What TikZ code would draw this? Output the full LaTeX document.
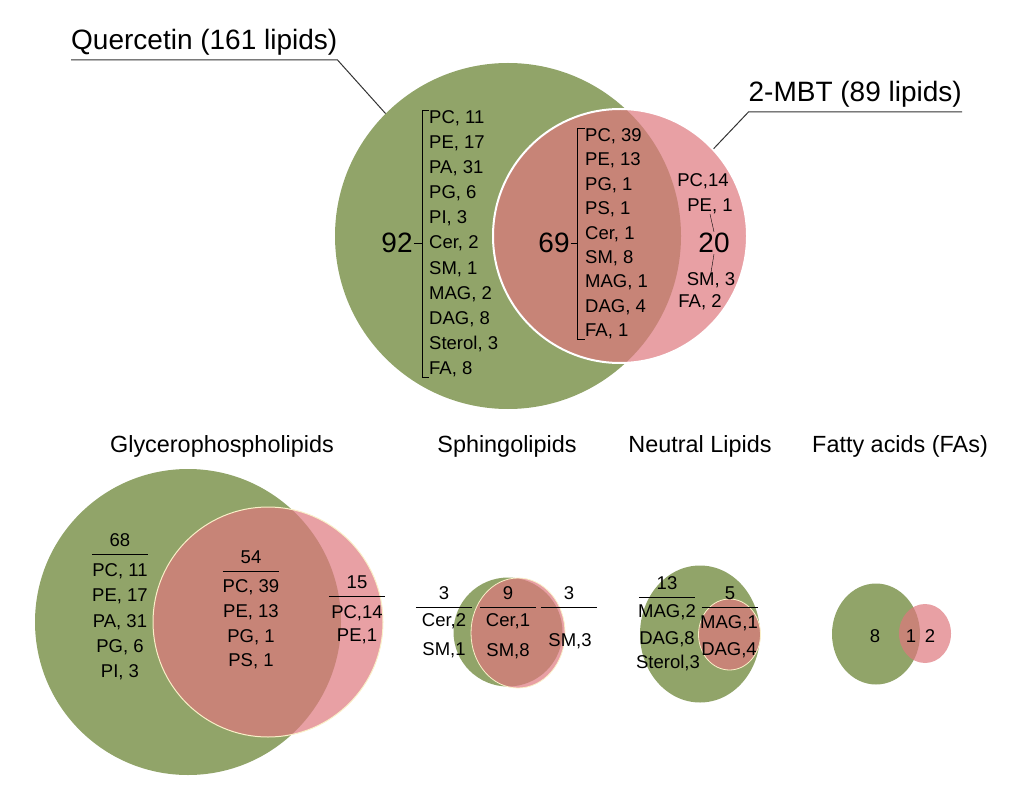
\documentclass[tikz,border=0pt]{standalone}
\usepackage{fontspec}
\setmainfont{Liberation Sans}
\usetikzlibrary{shapes.geometric}

\definecolor{quergreen}{RGB}{145,164,105}
\definecolor{mbtpink}{RGB}{222,119,126}
\definecolor{rimcream}{RGB}{250,240,200}

\begin{document}
\begin{tikzpicture}[x=1pt,y=-1pt,
    green set/.style={ellipse,fill=quergreen,inner sep=0pt},
    pink set/.style={ellipse,fill=mbtpink,fill opacity=.7,inner sep=0pt},
    big/.style={inner sep=1pt,font=\fontsize{28}{30}\selectfont},
    item/.style={inner sep=0pt,font=\fontsize{18.5}{20}\selectfont},
    small/.style={inner sep=0pt,font=\fontsize{18.5}{20}\selectfont},
    hdr/.style={small,minimum width=56pt,inner ysep=7pt,anchor=south},
    title/.style={anchor=base,font=\fontsize{23.4}{25}\selectfont}]
\useasboundingbox (0,0) rectangle (1024,799);

% top venn
\node[green set,minimum width=346pt,minimum height=346pt] (qtop) at (508,236) {};
\node[pink set,draw=white,line width=2pt,minimum width=254pt,minimum height=254pt] (mtop) at (620,236) {};

\node[big,inner xsep=0pt,inner ysep=4pt,anchor=south west] (qname) at (71,60) {Quercetin (161 lipids)};
\node[big,inner xsep=0pt,inner ysep=4pt,anchor=south east] (mname) at (962,112) {2-MBT (89 lipids)};
\draw[black!80,line width=1pt] (qname.south west) -- (qname.south east) -- (qtop.135);
\draw[black!80,line width=1pt] (mname.south east) -- (mname.south west) -- (mtop.43);

\foreach \lbl [count=\i] in {{PC, 11},{PE, 17},{PA, 31},{PG, 6},{PI, 3},{Cer, 2},{SM, 1},{MAG, 2},{DAG, 8},{Sterol, 3},{FA, 8}}
    \node[item,anchor=base west] (qg\i) at (429,{123.5+25.1*(\i-1)}) {\lbl};
\node[big] (q92) at (397,243) {92};
\coordinate (qbr) at ([xshift=-7pt]qg1.north west);
\draw (qg1.north west) -- (qbr) -- (qbr |- qg11.south west) -- (qg11.south west);
\draw (q92.east) -- (q92.east -| qbr);

\foreach \lbl [count=\i] in {{PC, 39},{PE, 13},{PG, 1},{PS, 1},{Cer, 1},{SM, 8},{MAG, 1},{DAG, 4},{FA, 1}}
    \node[item,anchor=base west] (ig\i) at (585,{141.5+24.4*(\i-1)}) {\lbl};
\node[big] (q69) at (554,243) {69};
\coordinate (ibr) at ([xshift=-8pt]ig1.north west);
\draw (ig1.north west) -- (ibr) -- (ibr |- ig9.south west) -- (ig9.south west);
\draw (q69.east) -- (q69.east -| ibr);

\begin{scope}[every node/.append style={item,anchor=base}]
    \node (mr1) at (703,186.5) {PC,14};
    \node (mr2) at (710,211.5) {PE, 1};
    \node (mr3) at (711,285.5) {SM, 3};
    \node (mr4) at (700,307.5) {FA, 2};
\end{scope}
\node[big] (m20) at (714,243) {20};
\draw (mr2.south) -- (m20.north);
\draw (m20.south) -- (mr3.north);

% titles of the small venns
\node[title] (tgp) at (222,452) {Glycerophospholipids};
\node[title] (tsp) at (507,452) {Sphingolipids};
\node[title] (tnl) at (700,452) {Neutral Lipids};
\node[title] (tfa) at (900,452) {Fatty acids (FAs)};

% small venns
\node[green set,minimum width=306pt,minimum height=306pt] (gpq) at (188,622) {};
\node[pink set,draw=rimcream,line width=1pt,minimum width=230pt,minimum height=230pt] (gpm) at (268,622) {};
\node[green set,minimum width=109pt,minimum height=109pt] (spq) at (508,632) {};
\node[pink set,draw=rimcream,line width=.8pt,minimum width=94pt,minimum height=110pt] (spm) at (518,633) {};
\node[green set,minimum width=120pt,minimum height=137pt] (nlq) at (700,634) {};
\node[pink set,draw=rimcream,line width=.8pt,minimum width=62pt,minimum height=71pt] (nlm) at (729.5,634.5) {};
\node[green set,minimum width=88pt,minimum height=101pt] (faq) at (876,634) {};
\node[pink set,minimum width=52pt,minimum height=59pt] (fam) at (925,633.5) {};

\node[hdr] (gh68) at (120,554) {68};
\node[hdr] (gh54) at (251,571) {54};
\node[hdr] (gh15) at (357,596) {15};
\node[hdr] (sh3a) at (444,607) {3};
\node[hdr] (sh9) at (508,607) {9};
\node[hdr] (sh3b) at (569,607) {3};
\node[hdr] (nh13) at (667,597) {13};
\node[hdr] (nh5) at (730,607) {5};
\foreach \h in {gh68,gh54,gh15,sh3a,sh9,sh3b,nh13,nh5}
    \draw (\h.south west) -- (\h.south east);

\foreach \lbl [count=\i] in {{PC, 11},{PE, 17},{PA, 31},{PG, 6},{PI, 3}}
    \node[small,anchor=base] (ga\i) at (120,{576.6+25.2*(\i-1)}) {\lbl};
\foreach \lbl [count=\i] in {{PC, 39},{PE, 13},{PG, 1},{PS, 1}}
    \node[small,anchor=base] (gb\i) at (251,{592.6+24.7*(\i-1)}) {\lbl};
\begin{scope}[every node/.append style={small,anchor=base}]
    \node (gc1) at (357,618.6) {PC,14};
    \node (gc2) at (357,641.6) {PE,1};
    \node (sa1) at (444,626.6) {Cer,2};
    \node (sa2) at (444,655.6) {SM,1};
    \node (sb1) at (508,626.6) {Cer,1};
    \node (sb2) at (508,656.6) {SM,8};
    \node (sc1) at (570,646.6) {SM,3};
    \node (na1) at (667,617.6) {MAG,2};
    \node (na2) at (667,644.6) {DAG,8};
    \node (na3) at (668,668.6) {Sterol,3};
    \node (nb1) at (729,628.6) {MAG,1};
    \node (nb2) at (729,655.6) {DAG,4};
    \node (fa8) at (875,642.6) {8};
    \node (fa1) at (911,642.6) {1};
    \node (fa2) at (930,642.6) {2};
\end{scope}
\end{tikzpicture}
\end{document}
